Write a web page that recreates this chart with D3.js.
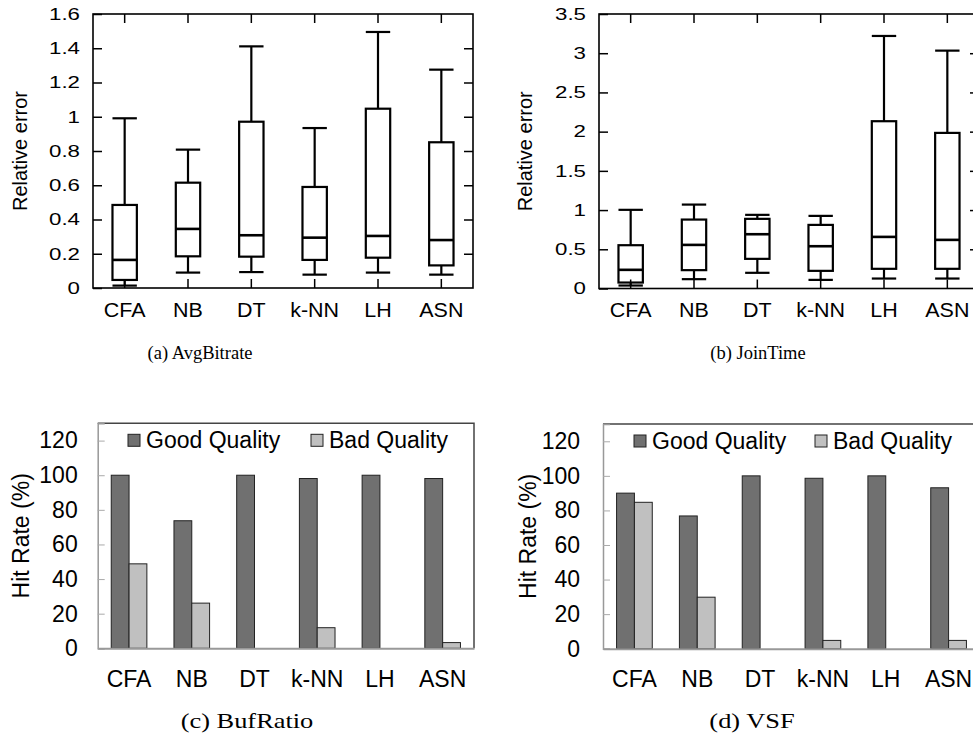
<!DOCTYPE html>
<html><head><meta charset="utf-8">
<script src="https://cdn.jsdelivr.net/npm/d3@7"></script>
<style>
body{margin:0;background:#fff;}
svg{display:block;}
text{font-family:"Liberation Sans",Arial,Helvetica,sans-serif;fill:#000;}
.cap{font-family:"Liberation Serif","Times New Roman",serif;}
</style></head>
<body>
<svg id="chart" width="973" height="738"></svg>
<script>
// ---------- DATA ----------
const categories = ["CFA", "NB", "DT", "k-NN", "LH", "ASN"];

// (a) AvgBitrate box plot
const avgLow    = [0.014, 0.090, 0.093, 0.078, 0.090, 0.078];
const avgQ1     = [0.047, 0.185, 0.183, 0.164, 0.177, 0.132];
const avgMedian = [0.164, 0.345, 0.308, 0.294, 0.304, 0.280];
const avgQ3     = [0.485, 0.615, 0.971, 0.590, 1.047, 0.851];
const avgHigh   = [0.991, 0.808, 1.411, 0.934, 1.495, 1.275];
const avgTicks  = [0, 0.2, 0.4, 0.6, 0.8, 1, 1.2, 1.4, 1.6];

// (b) JoinTime box plot
const joinLow    = [0.038, 0.119, 0.200, 0.110, 0.127, 0.127];
const joinQ1     = [0.076, 0.234, 0.378, 0.225, 0.251, 0.251];
const joinMedian = [0.238, 0.556, 0.692, 0.539, 0.658, 0.620];
const joinQ3     = [0.552, 0.879, 0.888, 0.811, 2.133, 1.984];
const joinHigh   = [1.003, 1.070, 0.939, 0.926, 3.220, 3.033];
const joinTicks  = [0, 0.5, 1, 1.5, 2, 2.5, 3, 3.5];

// (c) BufRatio hit rate
const bufGood = [100, 73.7, 100, 98.1, 100, 98.1];
const bufBad  = [48.8, 26.1, 0, 11.9, 0, 3.3];
// (d) VSF hit rate
const vsfGood = [90, 76.8, 100, 98.6, 100, 93.1];
const vsfBad  = [84.7, 29.8, 0, 4.8, 0, 4.8];
const hitTicks = [0, 20, 40, 60, 80, 100, 120];

const seriesNames = ["Good Quality", "Bad Quality"];
const seriesColors = ["#707070", "#c0c0c0"];

// ---------- DRAW ----------
const svg = d3.select("#chart");

function stretch(sel, sx) {
  sel.each(function () {
    const t = d3.select(this);
    const x0 = +t.attr("x") || 0;
    t.attr("x", x0 / sx).attr("transform", `scale(${sx},1)`);
  });
}

function boxPanel(o) {
  const g = svg.append("g");
  const x = d3.scaleBand().domain(categories).range([o.left, o.right]);
  const y = d3.scaleLinear().domain([0, o.ymax]).range([o.bottom, o.top]);
  const bw = x.bandwidth() * 0.385;
  const cx = c => x(c) + x.bandwidth() / 2;

  g.append("rect").attr("x", o.left).attr("y", o.top)
    .attr("width", o.right - o.left).attr("height", o.bottom - o.top)
    .attr("fill", "none").attr("stroke", "#000").attr("stroke-width", 1.6);

  const ax = g.append("g").attr("transform", `translate(${o.left},0)`)
    .call(d3.axisLeft(y).tickValues(o.ticks).tickSize(-9).tickPadding(13).tickFormat(d => String(d)));
  ax.select(".domain").remove();
  ax.selectAll("line").attr("stroke", "#000").attr("stroke-width", 1.5);
  ax.selectAll("text").attr("font-size", 16.5).attr("font-family", null).call(stretch, 1.35);

  const ar = g.append("g").attr("transform", `translate(${o.right},0)`)
    .call(d3.axisRight(y).tickValues(o.ticks.slice(1, -1)).tickSize(-9).tickFormat(""));
  ar.select(".domain").remove();
  ar.selectAll("line").attr("stroke", "#000").attr("stroke-width", 1.5);

  const ab = g.append("g").attr("transform", `translate(0,${o.bottom})`)
    .call(d3.axisBottom(x).tickSize(-9).tickPadding(15));
  ab.select(".domain").remove();
  ab.selectAll("line").attr("stroke", "#000").attr("stroke-width", 1.5);
  ab.selectAll("text").attr("font-size", 19.5).attr("font-family", null).call(stretch, 1.1);

  const at = g.append("g").attr("transform", `translate(0,${o.top})`)
    .call(d3.axisTop(x).tickSize(-9).tickFormat(""));
  at.select(".domain").remove();
  at.selectAll("line").attr("stroke", "#000").attr("stroke-width", 1.5);

  const d = categories.map((c, i) => ({c, lo: o.lo[i], q1: o.q1[i], med: o.med[i], q3: o.q3[i], hi: o.hi[i]}));
  const bx = g.selectAll(".box").data(d).enter().append("g");
  const st = s => s.attr("stroke", "#000").attr("stroke-width", 2.2).attr("fill", "none");
  bx.append("line").attr("x1", e => cx(e.c)).attr("x2", e => cx(e.c))
    .attr("y1", e => y(e.hi)).attr("y2", e => y(e.q3)).call(st);
  bx.append("line").attr("x1", e => cx(e.c)).attr("x2", e => cx(e.c))
    .attr("y1", e => y(e.q1)).attr("y2", e => y(e.lo)).call(st);
  bx.append("line").attr("x1", e => cx(e.c) - bw / 2).attr("x2", e => cx(e.c) + bw / 2)
    .attr("y1", e => y(e.hi)).attr("y2", e => y(e.hi)).call(st);
  bx.append("line").attr("x1", e => cx(e.c) - bw / 2).attr("x2", e => cx(e.c) + bw / 2)
    .attr("y1", e => y(e.lo)).attr("y2", e => y(e.lo)).call(st);
  bx.append("rect").attr("x", e => cx(e.c) - bw / 2).attr("width", bw)
    .attr("y", e => y(e.q3)).attr("height", e => y(e.q1) - y(e.q3)).call(st);
  bx.append("line").attr("x1", e => cx(e.c) - bw / 2).attr("x2", e => cx(e.c) + bw / 2)
    .attr("y1", e => y(e.med)).attr("y2", e => y(e.med)).call(st).attr("stroke-width", 2.6);

  svg.append("text").attr("transform", `translate(${o.titleX},${(o.top + o.bottom) / 2}) rotate(-90)`)
    .attr("text-anchor", "middle").attr("font-size", 20).text("Relative error");
  svg.append("text").attr("class", "cap").attr("x", o.capX).attr("y", o.capY)
    .attr("text-anchor", "middle").attr("font-size", 18.5).text(o.caption);
}

function barPanel(o) {
  const g = svg.append("g");
  const x = d3.scaleBand().domain(categories).range([o.left, o.right]);
  const y = d3.scaleLinear().domain([0, 130]).range([o.bottom, o.top]);
  const bw = x.bandwidth() * 0.284;
  const cx = c => x(c) + x.bandwidth() / 2;

  g.append("path").attr("d", `M${o.left},${o.top}H${o.right}V${o.bottom}`)
    .attr("fill", "none").attr("stroke", "#444").attr("stroke-width", 1.5);

  const ax = g.append("g").attr("transform", `translate(${o.left},0)`)
    .call(d3.axisLeft(y).tickValues(hitTicks).tickSize(-7).tickPadding(o.tickPad));
  ax.select(".domain").attr("stroke", "#999").attr("stroke-width", 1.5);
  ax.selectAll("line").attr("stroke", "#aaa").attr("stroke-width", 1);
  ax.selectAll("text").attr("font-size", 23).attr("font-family", null);

  [o.good, o.bad].forEach((vals, si) => {
    g.selectAll(".b" + si).data(categories.map((c, i) => ({c, v: vals[i]})).filter(e => e.v > 0))
      .enter().append("rect")
      .attr("x", e => cx(e.c) - bw + si * bw).attr("width", bw)
      .attr("y", e => y(e.v)).attr("height", e => y(0) - y(e.v))
      .attr("fill", seriesColors[si]).attr("stroke", "#222").attr("stroke-width", 1);
  });

  const ab = g.append("g").attr("transform", `translate(0,${o.bottom})`)
    .call(d3.axisBottom(x).tickSize(0).tickPadding(22));
  ab.select(".domain").attr("stroke", "#999").attr("stroke-width", 2);
  ab.selectAll("text").attr("font-size", 23).attr("font-family", null);

  seriesNames.forEach((n, i) => {
    g.append("rect").attr("x", o.legX[i]).attr("y", o.top + 11).attr("width", 12).attr("height", 12)
      .attr("fill", seriesColors[i]).attr("stroke", "#222").attr("stroke-width", 1);
    g.append("text").attr("x", o.legX[i] + 18).attr("y", o.top + 25).attr("font-size", 23).text(n);
  });

  svg.append("text").attr("transform", `translate(${o.titleX},${(o.top + o.bottom) / 2}) rotate(-90)`)
    .attr("text-anchor", "middle").attr("font-size", 23).text("Hit Rate (%)");
  svg.append("text").attr("class", "cap").attr("x", o.capX / 1.2).attr("y", o.capY)
    .attr("transform", "scale(1.2,1)")
    .attr("text-anchor", "middle").attr("font-size", 22).text(o.caption);
}

boxPanel({left: 93, right: 473, top: 14, bottom: 288, ymax: 1.6, ticks: avgTicks,
  lo: avgLow, q1: avgQ1, med: avgMedian, q3: avgQ3, hi: avgHigh,
  titleX: 27, capX: 200, capY: 359, caption: "(a) AvgBitrate"});
boxPanel({left: 599, right: 979, top: 14, bottom: 288.5, ymax: 3.5, ticks: joinTicks,
  lo: joinLow, q1: joinQ1, med: joinMedian, q3: joinQ3, hi: joinHigh,
  titleX: 532, capX: 758, capY: 359, caption: "(b) JoinTime"});
barPanel({left: 97.7, right: 474, top: 423.3, bottom: 648.3, good: bufGood, bad: bufBad, tickPad: 20,
  legX: [128, 311], titleX: 29, capX: 247, capY: 728, caption: "(c) BufRatio"});
barPanel({left: 603, right: 980, top: 424, bottom: 648.7, good: vsfGood, bad: vsfBad, tickPad: 23,
  legX: [634, 815], titleX: 536, capX: 752, capY: 728, caption: "(d) VSF"});
</script>
</body></html>
